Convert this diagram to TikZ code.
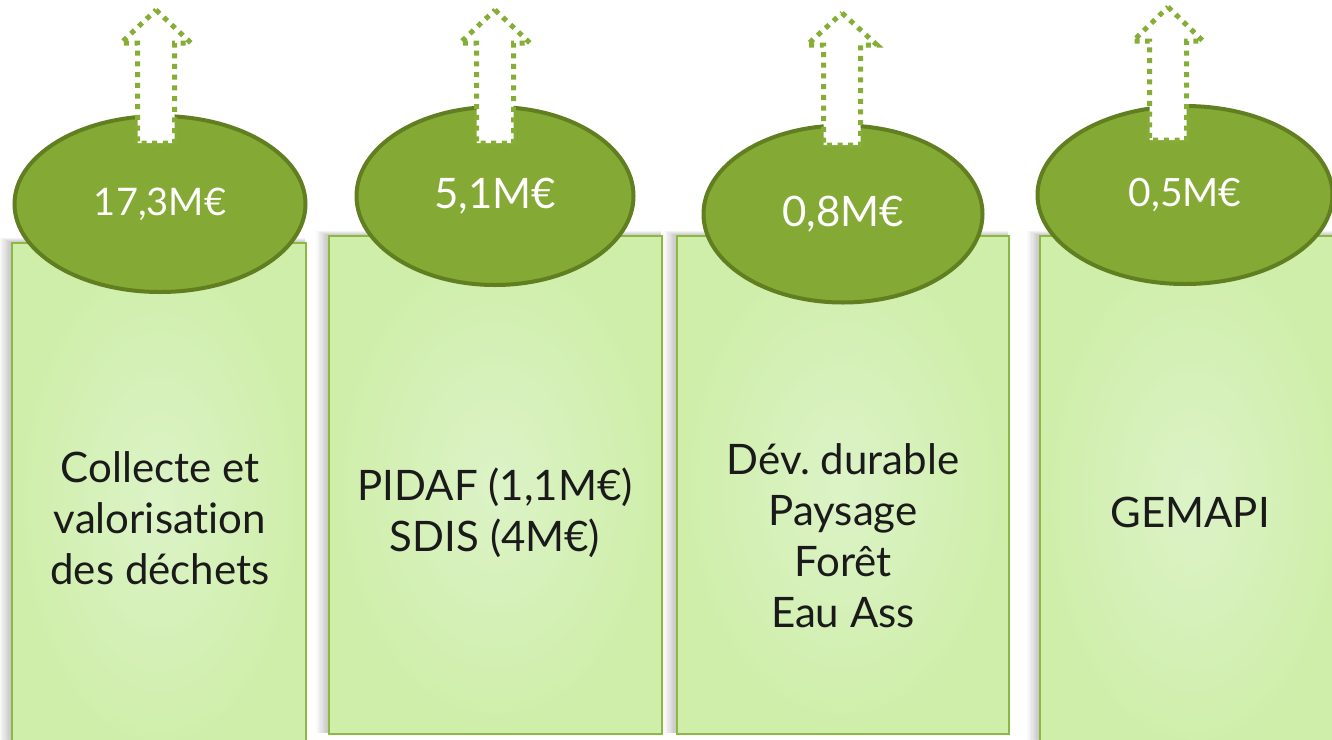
\documentclass[tikz,border=0pt]{standalone}
\usepackage{fontspec}
\setmainfont{Lato}[Ligatures={NoCommon}]
\usetikzlibrary{shapes.geometric}
\definecolor{ellfill}{HTML}{84A934}
\definecolor{elldraw}{HTML}{617F21}
\definecolor{boxdraw}{HTML}{8DB843}
\definecolor{boxin}{HTML}{DCF3C7}
\definecolor{boxout}{HTML}{CFEEA9}
\definecolor{arrowc}{HTML}{86AD36}
\definecolor{txt}{HTML}{1A1A1A}
\tikzset{
  panel/.style={draw=boxdraw, line width=2pt, inner color=boxin, outer color=boxout,
    anchor=north west, inner sep=0pt},
  ell/.style={ellipse, draw=elldraw, line width=4pt, fill=ellfill, inner sep=0pt,
    text=white, font=\fontsize{42}{48}\selectfont},
  uparrow/.style={draw=arrowc, fill=white, line width=5pt, dash pattern=on 5pt off 5.7pt},
  paneltext/.style={align=center, text=txt, font=\fontsize{42}{51}\selectfont, inner sep=0pt},
}
\newcommand{\panelshadow}[4]{%
  \foreach \d in {1,...,9}{\fill[black,opacity=0.022] (#1-\d*1.3,#2-\d*0.5) rectangle (#3,#4);}}
\begin{document}
\frenchspacing
\begin{tikzpicture}[x=1pt,y=-1pt]
\useasboundingbox (0,0) rectangle (1332,739);
\clip (0,0) rectangle (1332,739);
\fill[white] (0,0) rectangle (1332,739);
% shadows
\panelshadow{11}{242}{305}{760}
\panelshadow{328}{235}{661}{733}
\panelshadow{676}{235}{1008}{733}
\panelshadow{1039}{235}{1345}{760}
% panels
\node[panel, minimum width=294pt, minimum height=518pt] (b1) at (11,242) {};
\node[panel, minimum width=333pt, minimum height=498pt] (b2) at (328,235) {};
\node[panel, minimum width=332pt, minimum height=498pt] (b3) at (676,235) {};
\node[panel, minimum width=306pt, minimum height=525pt] (b4) at (1039,235) {};
% ellipses
\node[ell, minimum width=291pt, minimum height=176pt, font=\fontsize{38}{44}\selectfont] (e1) at (160,204) {17,3M€};
\node[ell, minimum width=277pt, minimum height=178pt] (e2) at (495,196) {5,1M€};
\node[ell, minimum width=279pt, minimum height=177pt] (e3) at (843,214) {0,8M€};
\node[ell, minimum width=295pt, minimum height=178pt, font=\fontsize{39}{44}\selectfont] (e4) at (1185,195) {0,5M€};
% arrows
\foreach \c/\t/\h/\b in {156/10/43/143, 495/10/43/143, 842/13/45/145, 1168/7/41/140}{
  \draw[uparrow] (\c,\t) -- (\c+35,\h) -- (\c+18.5,\h) -- (\c+18.5,\b)
     -- (\c-18.5,\b) -- (\c-18.5,\h) -- (\c-35,\h) -- cycle;
}
% texts
\node[paneltext] (t1) at (160,518) {Collecte et\\valorisation\\des déchets};
\node[paneltext] (t2) at (495,513) {PIDAF (1,1M€)\\SDIS (4M€)};
\node[paneltext] (t3) at (843,536) {Dév. durable\\Paysage\\Forêt\\Eau Ass};
\node[paneltext] (t4) at (1190,512) {GEMAPI};
\end{tikzpicture}
\end{document}
